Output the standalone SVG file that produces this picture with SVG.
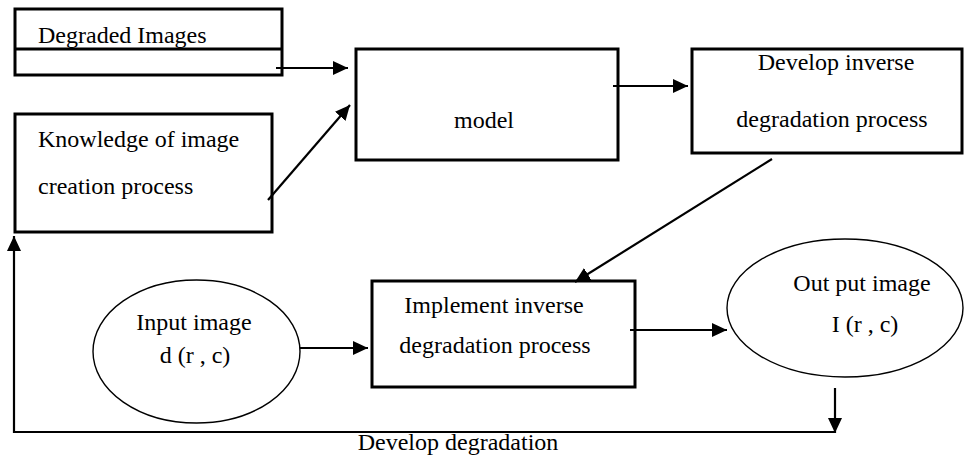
<svg xmlns="http://www.w3.org/2000/svg" width="964" height="458" viewBox="0 0 964 458">
<style>
.box{fill:#fff;stroke:#000;stroke-width:3}
.ell{fill:#fff;stroke:#000;stroke-width:1.4}
.t{font-family:"Liberation Serif","Times New Roman",serif;font-size:24px;fill:#000}
.c{text-anchor:middle}
.con{stroke:#000;stroke-width:2.2;fill:none}
</style>
<defs>
<marker id="ah" viewBox="0 0 15 14" refX="15" refY="7" markerWidth="15" markerHeight="14" markerUnits="userSpaceOnUse" orient="auto">
<path d="M0,0 L15,7 L0,14 z" fill="#000"/>
</marker>
</defs>
<rect width="964" height="458" fill="#fff"/>
<g id="degraded">
<rect class="box" x="15" y="9" width="267" height="66"/>
<line x1="15" y1="49" x2="282" y2="49" stroke="#000" stroke-width="3"/>
<text class="t" x="38" y="43">Degraded Images</text>
</g>
<g id="knowledge">
<rect class="box" x="15" y="114" width="257" height="118"/>
<text class="t" x="38" y="147">Knowledge of image</text>
<text class="t" x="38" y="194">creation process</text>
</g>
<g id="model">
<rect class="box" x="356" y="49" width="262" height="111"/>
<text class="t c" x="484" y="128">model</text>
</g>
<g id="develop-inverse">
<rect class="box" x="692" y="49" width="270" height="104"/>
<text class="t c" x="836" y="70">Develop inverse</text>
<text class="t c" x="832" y="127">degradation process</text>
</g>
<g id="input">
<ellipse class="ell" cx="196.5" cy="351.5" rx="103.5" ry="71.5"/>
<text class="t c" x="194" y="330">Input image</text>
<text class="t c" x="195" y="363">d (r , c)</text>
</g>
<g id="implement">
<rect class="box" x="372" y="281" width="263" height="106"/>
<text class="t c" x="494" y="313">Implement inverse</text>
<text class="t c" x="495" y="353">degradation process</text>
</g>
<g id="output">
<ellipse class="ell" cx="845" cy="308" rx="118" ry="69"/>
<text class="t c" x="862" y="291">Out put image</text>
<text class="t c" x="865" y="332">I (r , c)</text>
</g>
<g id="connectors">
<line class="con" x1="276" y1="68" x2="348" y2="68" marker-end="url(#ah)"/>
<line class="con" x1="268" y1="200" x2="350" y2="105" marker-end="url(#ah)"/>
<line class="con" x1="613" y1="86" x2="688" y2="86" marker-end="url(#ah)"/>
<line class="con" x1="772" y1="159" x2="575" y2="282" marker-end="url(#ah)"/>
<line class="con" x1="300" y1="348" x2="368" y2="348" marker-end="url(#ah)"/>
<line class="con" x1="630" y1="330" x2="727" y2="330" marker-end="url(#ah)"/>
<line class="con" x1="835" y1="388" x2="835" y2="433" marker-end="url(#ah)"/>
<polyline class="con" points="835,432 14,432 14,236" stroke-width="1.8" marker-end="url(#ah)"/>
<text class="t c" x="458" y="450">Develop degradation</text>
</g>
</svg>
